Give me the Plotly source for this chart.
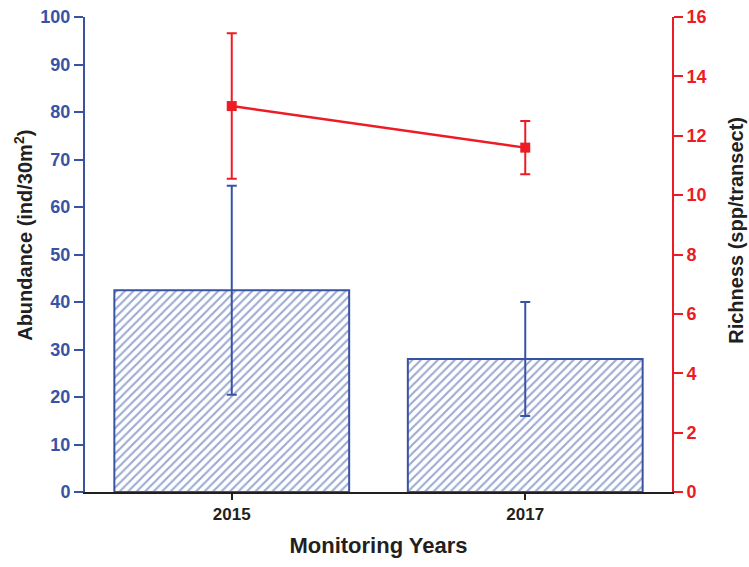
import plotly.graph_objects as go

years = ["2015", "2017"]
abundance = [42.5, 28.0]
abundance_err = [22.0, 12.0]
richness = [13.0, 11.6]
richness_err = [2.45, 0.9]

BLUE = "#3953a4"
RED = "#ed1c24"
DARK = "#231f20"
FONT = "Liberation Sans, Arial, sans-serif"

fig = go.Figure()
fig.add_trace(go.Bar(
    x=years, y=abundance, width=0.8,
    marker=dict(color="white", line=dict(color=BLUE, width=2),
                pattern=dict(shape="/", fgcolor=BLUE, bgcolor="white", size=6, solidity=0.35)),
    error_y=dict(type="data", array=abundance_err, visible=True, color=BLUE, thickness=2, width=5),
    yaxis="y", showlegend=False,
))
fig.add_trace(go.Scatter(
    x=years, y=richness, mode="lines+markers",
    line=dict(color=RED, width=2.5),
    marker=dict(symbol="square", size=10, color=RED),
    error_y=dict(type="data", array=richness_err, visible=True, color=RED, thickness=2, width=5),
    yaxis="y2", showlegend=False,
))

fig.update_layout(
    width=749, height=567,
    margin=dict(l=85, r=77, t=17, b=75),
    paper_bgcolor="white", plot_bgcolor="white",
    font=dict(family=FONT, size=16, color=DARK),
    bargap=0.2,
    xaxis=dict(
        type="category", range=[-0.5, 1.5], automargin=False,
        showline=True, linecolor=DARK, linewidth=1.5,
        ticks="outside", ticklen=6, tickwidth=1.5, tickcolor=DARK,
        tickfont=dict(family=FONT, size=17, color=DARK, weight="bold"),
        title=dict(text="<b>Monitoring Years</b>", font=dict(family=FONT, size=22, color=DARK), standoff=14),
        showgrid=False, zeroline=False,
    ),
    yaxis=dict(
        range=[0, 100], dtick=10, tick0=0, automargin=False, ticklabeloverflow="allow",
        showline=True, linecolor=BLUE, linewidth=2,
        ticks="outside", ticklen=9, tickwidth=2, tickcolor=BLUE,
        tickfont=dict(family=FONT, size=18, color=BLUE, weight="bold"),
        showgrid=False, zeroline=False,
    ),
    yaxis2=dict(
        range=[0, 16], dtick=2, tick0=0, overlaying="y", side="right", automargin=False,
        ticklabeloverflow="allow",
        showline=True, linecolor=RED, linewidth=2,
        ticks="outside", ticklen=9, tickwidth=2, tickcolor=RED,
        tickfont=dict(family=FONT, size=18, color=RED, weight="bold"),
        showgrid=False, zeroline=False,
    ),
    annotations=[
        dict(text="<b>Abundance (ind/30m<sup>2</sup>)</b>", xref="paper", yref="paper",
             x=-0.106, y=0.541, xanchor="center", yanchor="middle", textangle=-90,
             showarrow=False, font=dict(family=FONT, size=20, color=DARK)),
        dict(text="<b>Richness (spp/transect)</b>", xref="paper", yref="paper",
             x=1.109, y=0.552, xanchor="center", yanchor="middle", textangle=-90,
             showarrow=False, font=dict(family=FONT, size=20, color=DARK)),
    ],
)

fig.write_html("out.html", config={"displayModeBar": False},
               post_script="document.body.style.margin='0';document.body.style.overflow='hidden';")
